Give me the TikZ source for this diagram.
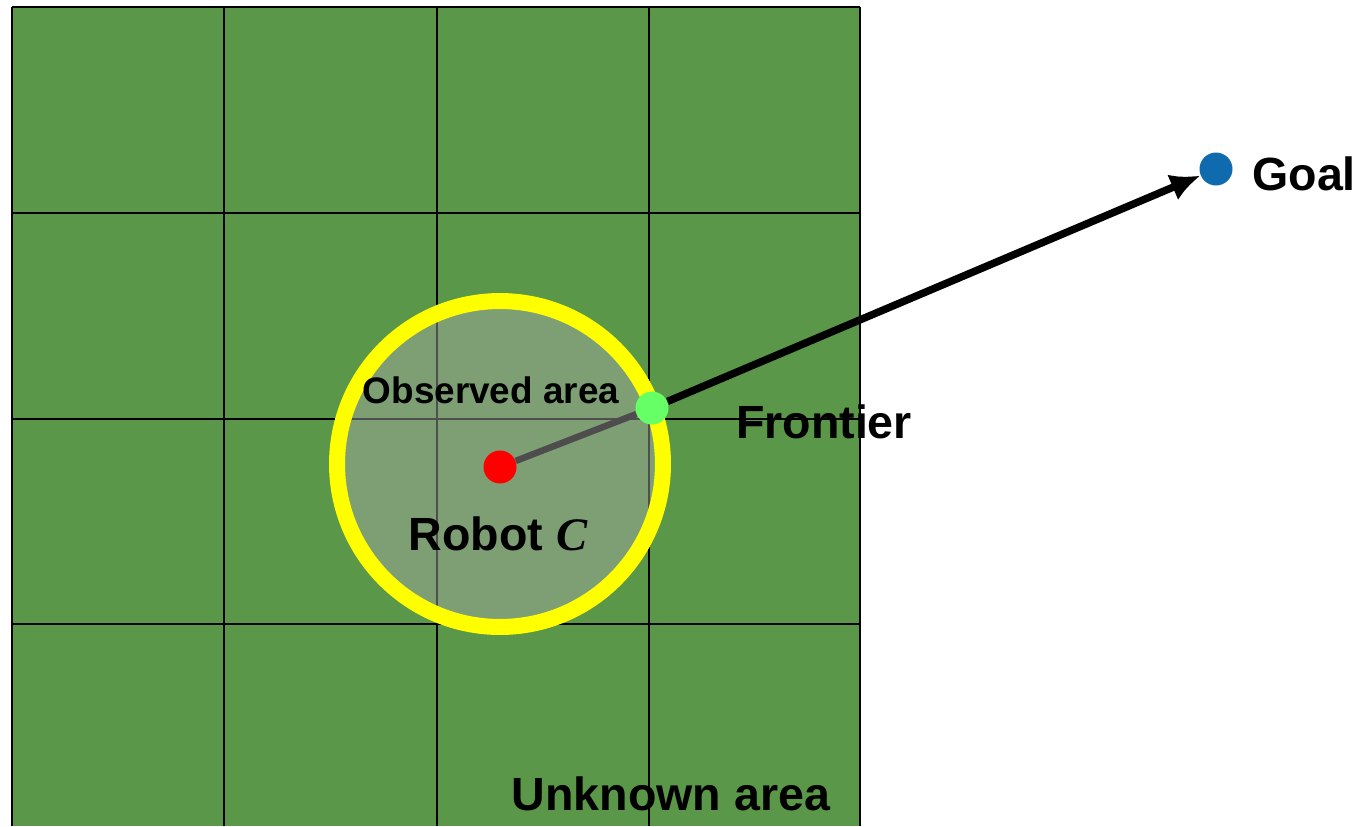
\documentclass[tikz,border=0pt]{standalone}
\usepackage{fontspec}
\setmainfont{Liberation Sans}
\newfontfamily\timesfont{Liberation Serif}
\usepackage{tikz}
\usetikzlibrary{arrows.meta}

\definecolor{fieldgreen}{RGB}{91,151,72}
\definecolor{viewgray}{RGB}{166,166,166}
\definecolor{ringyellow}{RGB}{255,255,0}
\definecolor{robotred}{RGB}{255,0,0}
\definecolor{frontgreen}{RGB}{102,255,102}
\definecolor{goalblue}{RGB}{15,107,174}
\definecolor{linkgray}{RGB}{77,77,77}

\tikzset{
  dot/.style={circle,inner sep=0pt,minimum size=0.66cm,fill=#1},
  biglabel/.style={font=\fontsize{26.5}{30}\selectfont\bfseries,inner sep=0pt},
  smalllabel/.style={font=\fontsize{21}{24}\selectfont\bfseries,inner sep=0pt}
}

\begin{document}
\begin{tikzpicture}[x=0.02cm,y=-0.02cm]
\useasboundingbox (0,0) rectangle (1366,826);
% unknown area
\fill[fieldgreen] (12,7) rectangle (860,826);
\foreach \x in {12,224,437,649,860} {
\draw[line width=1.2pt] (\x,7) -- (\x,826);
}
\foreach \y in {7,213,419,624} {
\draw[line width=1.2pt] (12,\y) -- (860,\y);
}
% observed area
\fill[viewgray,fill opacity=0.48] (500,464) circle (3.26cm);
\draw[ringyellow,line width=0.32cm] (500,464) circle (3.26cm);
% points
\node[dot=robotred] (robot) at (500,467) {};
\node[dot=frontgreen] (frontier) at (652,408) {};
\node[dot=goalblue] (goal) at (1216,169) {};
\draw[linkgray,line width=0.13cm] (robot) -- (frontier);
\draw[line width=0.15cm,-{Latex[length=0.6cm,width=0.55cm]}] (frontier) -- (goal);
% labels
\node[smalllabel,anchor=base] (observed) at (491,403) {Observed area};
\node[biglabel,anchor=base] (robotlbl) at (498,550) {Robot {\timesfont\bfseries\itshape C}};
\node[biglabel,anchor=base] (frontierlbl) at (824,438) {Frontier};
\node[biglabel,anchor=base west] (goallbl) at (1252,190) {Goal};
\node[biglabel,anchor=base] (unknown) at (671,810) {Unknown area};
\end{tikzpicture}
\end{document}
